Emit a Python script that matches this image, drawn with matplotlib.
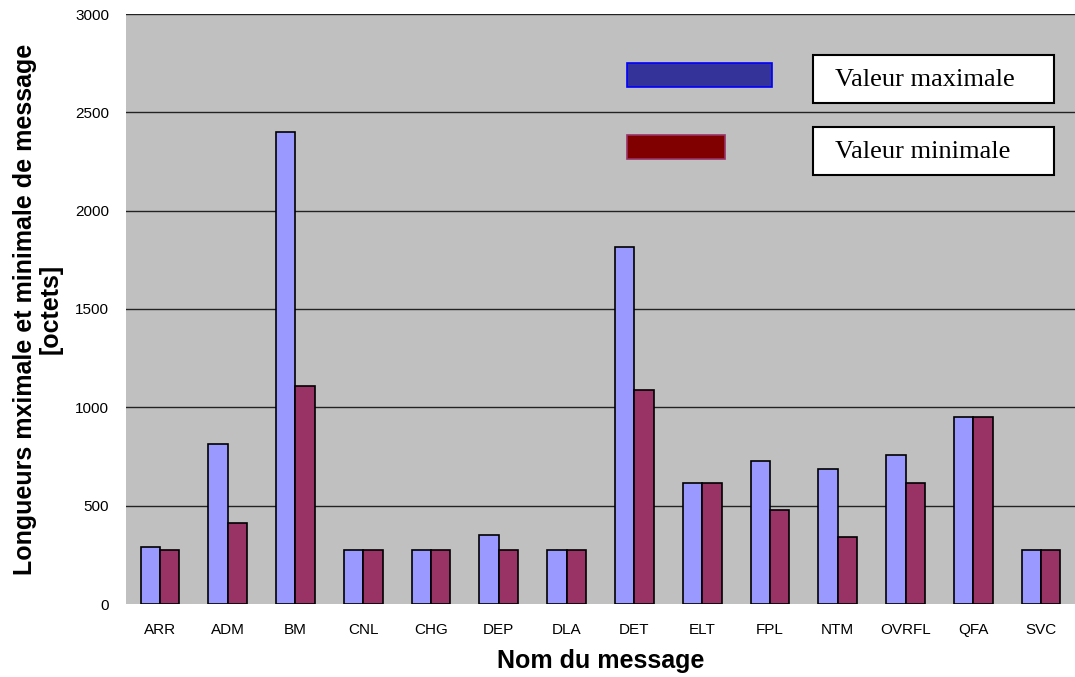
import numpy as np
import matplotlib.pyplot as plt
from matplotlib.patches import Rectangle

plt.rcParams.update({
    "font.family": "sans-serif",
    "font.sans-serif": ["Liberation Sans", "DejaVu Sans"],
})

categories = ["ARR", "ADM", "BM", "CNL", "CHG", "DEP", "DLA", "DET",
              "ELT", "FPL", "NTM", "OVRFL", "QFA", "SVC"]
val_max = [290, 812, 2400, 273, 273, 350, 273, 1816, 613, 728, 685, 756, 951, 273]
val_min = [273, 410, 1108, 273, 273, 273, 273, 1088, 613, 478, 342, 614, 951, 273]
y_ticks = [0, 500, 1000, 1500, 2000, 2500, 3000]

fig = plt.figure(figsize=(10.75, 6.77), dpi=100)
ax = fig.add_axes([126 / 1075, 73 / 677, 949 / 1075, 590 / 677])
ax.set_facecolor("#c0c0c0")

x = np.arange(len(categories))
w = 1 / 3.5
ax.bar(x - w / 2, val_max, w, color="#9999ff", edgecolor="black", linewidth=1.2, zorder=3)
ax.bar(x + w / 2, val_min, w, color="#993366", edgecolor="black", linewidth=1.2, zorder=3)

ax.set_xlim(-0.5, len(categories) - 0.5)
ax.set_ylim(0, 3000)
ax.set_yticks(y_ticks)
ax.set_xticks(x)
ax.set_xticklabels(categories, fontsize=11)
ax.tick_params(axis="y", labelsize=11, length=0, pad=12)
ax.tick_params(axis="x", length=0, pad=14)
for t in y_ticks[1:]:
    ax.axhline(t, color="#222222", linewidth=1.0, zorder=1)
for s in ax.spines.values():
    s.set_visible(False)

ax.set_xlabel("Nom du message", fontsize=18, fontweight="bold", labelpad=8)
fig.text(38 / 1075, 1 - 309 / 677, "Longueurs mximale et minimale de message\n[octets]",
         fontsize=18, fontweight="bold", rotation=90, ha="center", va="center",
         multialignment="center", linespacing=1.1)

# hand-placed legend: colour swatches and boxed captions
def px(xp, yp):
    return xp / 1075, 1 - yp / 677

x0, y0 = px(627, 87)
fig.patches.append(Rectangle((x0, y0), 145 / 1075, 24 / 677, transform=fig.transFigure,
                             facecolor="#333399", edgecolor="#0000ff", linewidth=1.2))
x0, y0 = px(627, 159)
fig.patches.append(Rectangle((x0, y0), 98 / 1075, 24 / 677, transform=fig.transFigure,
                             facecolor="#800000", edgecolor="#993366", linewidth=1.2))
for ytop, label in [(55, "Valeur maximale"), (127, "Valeur minimale")]:
    x0, y0 = px(813, ytop + 48)
    fig.patches.append(Rectangle((x0, y0), 241 / 1075, 48 / 677, transform=fig.transFigure,
                                 facecolor="white", edgecolor="black", linewidth=1.5))
    tx, ty = px(835, ytop + 25)
    fig.text(tx, ty, label, fontsize=19, family="Liberation Serif", va="center", ha="left")

fig.savefig("out.png", dpi=100)
